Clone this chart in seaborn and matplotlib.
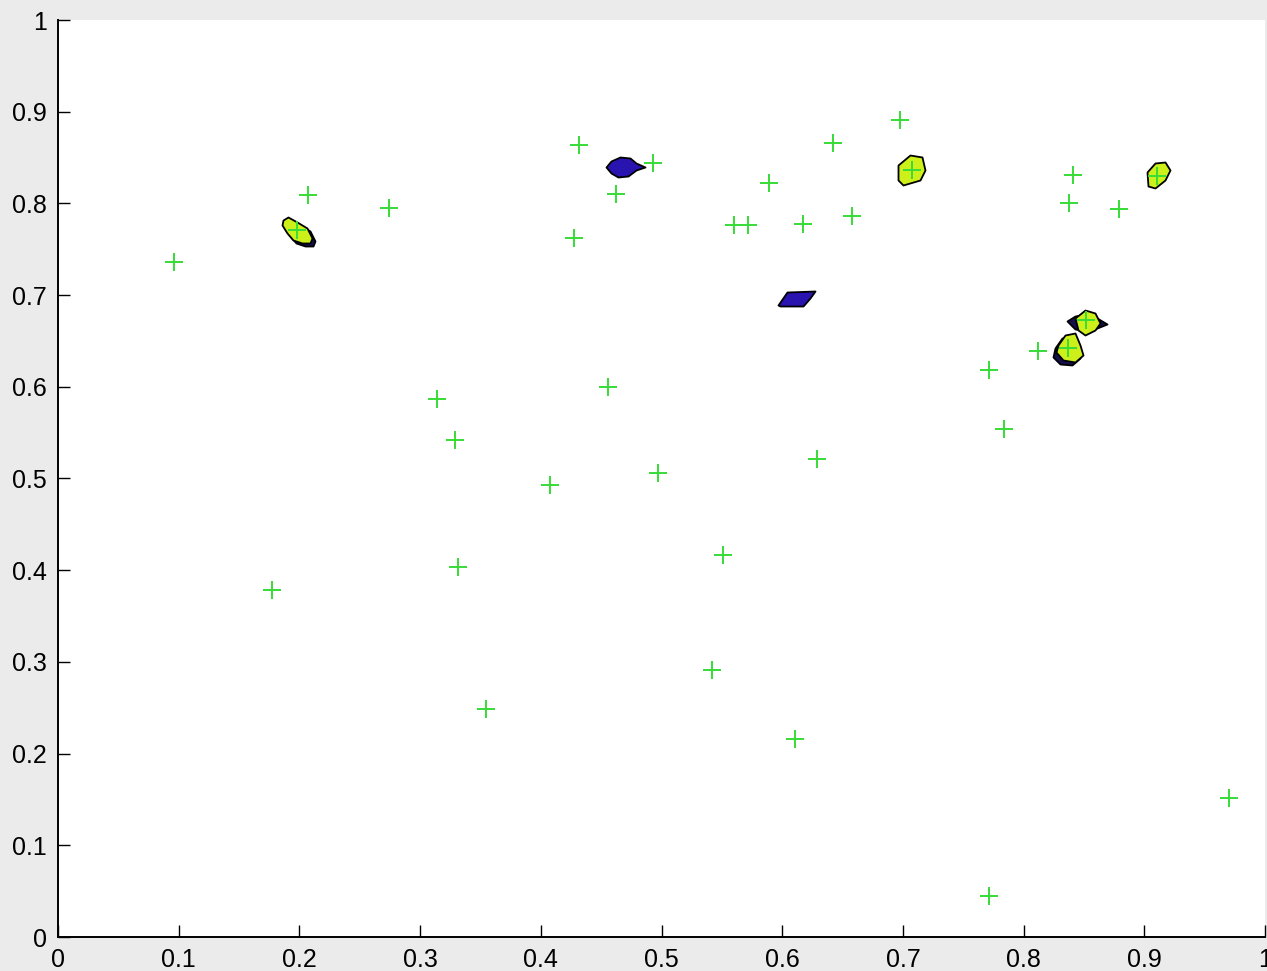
import numpy as np
import pandas as pd
import matplotlib
matplotlib.use("Agg")
import matplotlib.pyplot as plt
from matplotlib.path import Path
import seaborn as sns

# ---- data -------------------------------------------------------------
plus_x = [0.096, 0.207, 0.274, 0.432, 0.493, 0.462, 0.4275, 0.314, 0.329,
          0.4557, 0.408, 0.497, 0.177, 0.331, 0.355, 0.551, 0.542, 0.611,
          0.629, 0.589, 0.560, 0.572, 0.617, 0.642, 0.658, 0.698, 0.7075,
          0.841, 0.838, 0.879, 0.9105, 0.771, 0.784, 0.812, 0.837, 0.852,
          0.771, 0.970, 0.198]
plus_y = [0.736, 0.809, 0.795, 0.864, 0.844, 0.810, 0.762, 0.587, 0.542,
          0.600, 0.493, 0.506, 0.378, 0.403, 0.249, 0.417, 0.291, 0.216,
          0.521, 0.822, 0.776, 0.776, 0.778, 0.866, 0.786, 0.891, 0.836,
          0.831, 0.800, 0.794, 0.830, 0.618, 0.554, 0.639, 0.642, 0.673,
          0.0447, 0.152, 0.771]

# yellow cells
yellow_x = [0.198, 0.7067, 0.9113, 0.8376, 0.8525]
yellow_y = [0.771, 0.8364, 0.831, 0.6423, 0.6707]

# blue cells
blue_x = [0.4688, 0.6114]
blue_y = [0.8397, 0.6957]

# dark cells lying underneath the yellow ones
shade_x = [0.2005, 0.8351, 0.8525]
shade_y = [0.7677, 0.6391, 0.6696]

xticks = [0, 0.1, 0.2, 0.3, 0.4, 0.5, 0.6, 0.7, 0.8, 0.9, 1]
tick_labels = ["0", "0.1", "0.2", "0.3", "0.4", "0.5", "0.6", "0.7", "0.8", "0.9", "1"]

# ---- cell outlines (pixel offsets from the cell centre, y up) ---------
yellow_shapes = [
    [(-14, 10), (-9, 13), (0, 8), (10, 2), (15, -8), (13, -13), (5, -13),
     (-4, -10), (-10, -3), (-15, 5)],
    [(-13, 5), (-1, 15), (11, 13), (14, 0), (9, -10), (-8, -15), (-13, -10)],
    [(-11, 3), (-3, 12), (7, 13), (12, 5), (7, -5), (-3, -13), (-10, -11)],
    [(-11, 3), (-4, 13), (6, 15), (11, 3), (14, -7), (6, -14), (-6, -12),
     (-13, -4)],
    [(-12, 4), (-2, 12), (8, 9), (13, -1), (8, -8), (-2, -13), (-9, -8)],
]
blue_shapes = [
    [(-18, 0), (-13, 6), (-4, 10), (6, 9), (12, 4), (21, 0), (12, -3),
     (4, -9), (-6, -10), (-13, -6)],
    [(-18, -6), (-9, 7), (19, 8), (14, 1), (7, -7), (-16, -7)],
]
shade_shapes = [
    [(-14, 10), (-9, 13), (0, 8), (10, 2), (15, -8), (13, -13), (5, -13),
     (-4, -10), (-10, -3), (-15, 5)],
    [(-11, 3), (-4, 13), (8, 15), (12, 3), (14, -7), (6, -14), (-6, -13),
     (-13, -6)],
    [(-20, 2), (-12, 7), (0, 9), (10, 5), (20, -1), (10, -5), (0, -8),
     (-12, -6)],
]

DPI = 100


def cell_marker(offsets):
    v = np.asarray(offsets, float)
    path = Path(np.vstack([v, v[:1]]), closed=True)
    half = np.abs(v).max()
    size = (2 * half * 72 / DPI) ** 2
    return path, size


# ---- figure -------------------------------------------------------------
sns.set_theme(style="ticks")
plt.rcParams["font.family"] = ["Liberation Sans", "DejaVu Sans"]

fig = plt.figure(figsize=(12.67, 9.71), dpi=DPI, facecolor="#ebebeb")
ax = fig.add_axes([58 / 1267, 34 / 971, 1207 / 1267, 917 / 971])
ax.set_facecolor("white")


def draw_cells(xs, ys, shapes, face, z):
    for x, y, shp in zip(xs, ys, shapes):
        path, size = cell_marker(shp)
        sns.scatterplot(x=[x], y=[y], marker=path, s=size, color=face,
                        edgecolor="black", linewidth=1.3, ax=ax, zorder=z,
                        legend=False)


draw_cells(shade_x, shade_y, shade_shapes, "#14104e", 2)
draw_cells(yellow_x, yellow_y, yellow_shapes, "#cdf01a", 3)
draw_cells(blue_x, blue_y, blue_shapes, "#2a14b0", 3)

pts = pd.DataFrame({"x": plus_x, "y": plus_y})
sns.scatterplot(data=pts, x="x", y="y", marker="+", s=180, color="#36dc36",
                linewidth=1.4, ax=ax, zorder=4, legend=False)

ax.set_xlim(0, 1)
ax.set_ylim(0, 1)
ax.set_xticks(xticks)
ax.set_yticks(xticks)
ax.set_xticklabels(tick_labels)
ax.set_yticklabels(tick_labels)
ax.set_xlabel("")
ax.set_ylabel("")
for side in ("top", "right"):
    ax.spines[side].set_visible(False)
for side in ("left", "bottom"):
    ax.spines[side].set_linewidth(1.4)
    ax.spines[side].set_color("black")
ax.tick_params(direction="in", length=8.5, width=1.0, labelsize=18,
               colors="black")
ax.tick_params(axis="y", pad=8)
ax.tick_params(axis="x", pad=8)
ax.grid(False)

fig.savefig("out.png", dpi=DPI, facecolor=fig.get_facecolor())
